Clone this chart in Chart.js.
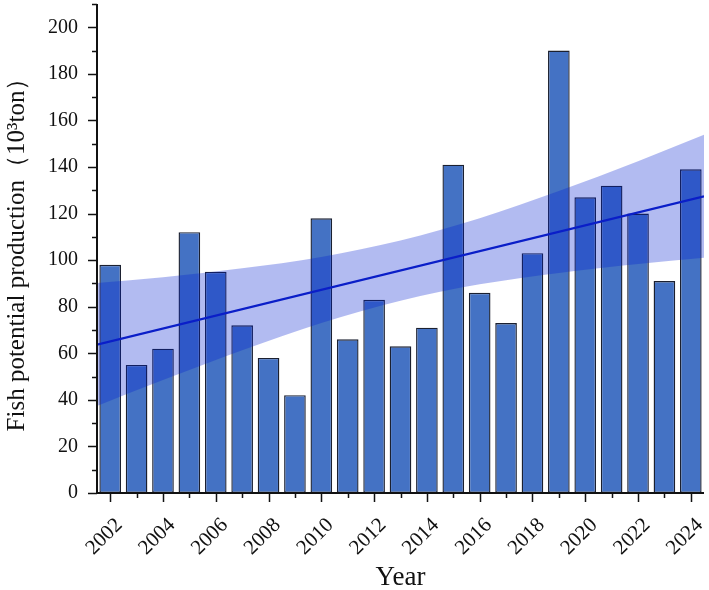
<!DOCTYPE html>
<html>
<head>
<meta charset="utf-8">
<script src="https://cdn.jsdelivr.net/npm/chart.js@4.4.1/dist/chart.umd.min.js"></script>
<style>
  html, body { margin: 0; padding: 0; background: #fff; }
  #wrap { width: 709px; height: 590px; }
</style>
</head>
<body>
<div id="wrap"><canvas id="chart" width="709" height="590"></canvas></div>
<script>
// Fish potential production by year (10^3 ton)
const YEARS = [2002, 2003, 2004, 2005, 2006, 2007, 2008, 2009, 2010, 2011, 2012, 2013,
               2014, 2015, 2016, 2017, 2018, 2019, 2020, 2021, 2022, 2023, 2024];
const PRODUCTION = [98, 55, 62, 112, 95, 72, 58, 42, 118, 66, 83, 63,
                    71, 141, 86, 73, 103, 190, 127, 132, 120, 91, 139];

// Linear fit at the plot edges
const FIT_X = [2001.5, 2024.5];
const FIT_Y = [63.7, 127.4];

// Confidence band
const BAND_X = [2001.5, 2004, 2007, 2010, 2013, 2016, 2019, 2022, 2024.5];
const BAND_UPPER = [90.2, 92.7, 96.5, 101.4, 108.4, 118.0, 129.7, 142.5, 153.8];
const BAND_LOWER = [37.4, 48.5, 61.3, 73.0, 82.6, 89.6, 94.5, 98.3, 101.0];

// Axis ticks
const X_LABEL_YEARS = [2002, 2004, 2006, 2008, 2010, 2012, 2014, 2016, 2018, 2020, 2022, 2024];
const Y_TICKS = [0, 20, 40, 60, 80, 100, 120, 140, 160, 180, 200];
const Y_MINOR = [10, 30, 50, 70, 90, 110, 130, 150, 170, 190, 210];

const FONT = "'Liberation Serif', 'Times New Roman', serif";
const BAR_COLOR = '#4472c4';
const BAND_COLOR = 'rgba(0, 30, 210, 0.3)';
const LINE_COLOR = '#0a1ec8';

const pts = (xs, ys) => xs.map((x, i) => ({ x, y: ys[i] }));

// axis lines and tick marks (major/minor), drawn through the chart's scales
const axesPlugin = {
  id: 'axes',
  afterDatasetsDraw(chart) {
    const { ctx, chartArea: a, scales: { x, y } } = chart;
    ctx.save();
    ctx.strokeStyle = '#111';
    ctx.lineWidth = 1.5;
    ctx.beginPath();
    Y_TICKS.forEach(v => {
      const py = Math.round(y.getPixelForValue(v)) + 0.5;
      ctx.moveTo(a.left - 9, py); ctx.lineTo(a.left, py);
    });
    Y_MINOR.forEach(v => {
      const py = Math.round(y.getPixelForValue(v)) + 0.5;
      ctx.moveTo(a.left - 5, py); ctx.lineTo(a.left, py);
    });
    YEARS.forEach(yr => {
      const px = Math.round(x.getPixelForValue(yr)) + 0.5;
      const len = X_LABEL_YEARS.includes(yr) ? 9 : 5;
      ctx.moveTo(px, a.bottom); ctx.lineTo(px, a.bottom + len);
    });
    ctx.stroke();

    ctx.lineWidth = 2;
    ctx.beginPath();
    ctx.moveTo(a.left, a.top);
    ctx.lineTo(a.left, a.bottom);
    ctx.lineTo(a.right, a.bottom);
    ctx.stroke();
    ctx.restore();
  }
};

new Chart(document.getElementById('chart'), {
  data: {
    datasets: [
      {
        type: 'bar',
        data: pts(YEARS, PRODUCTION),
        backgroundColor: BAR_COLOR,
        borderColor: '#1b2030',
        borderWidth: 1.4,
        borderSkipped: false,
        categoryPercentage: 1,
        barPercentage: 0.82,
        order: 3,
      },
      {
        type: 'line',
        data: pts(BAND_X, BAND_UPPER),
        borderWidth: 0,
        pointRadius: 0,
        backgroundColor: BAND_COLOR,
        fill: '+1',
        cubicInterpolationMode: 'monotone',
        order: 2,
      },
      {
        type: 'line',
        data: pts(BAND_X, BAND_LOWER),
        borderWidth: 0,
        pointRadius: 0,
        fill: false,
        cubicInterpolationMode: 'monotone',
        order: 2,
      },
      {
        type: 'line',
        data: pts(FIT_X, FIT_Y),
        borderColor: LINE_COLOR,
        borderWidth: 2.2,
        pointRadius: 0,
        fill: false,
        order: 1,
      },
    ]
  },
  options: {
    responsive: false,
    animation: false,
    layout: { padding: { top: 4, right: 5, left: 0, bottom: 0 } },
    plugins: {
      legend: { display: false },
      tooltip: { enabled: false },
    },
    scales: {
      x: {
        type: 'linear',
        offset: false,
        min: 2001.5,
        max: 2024.5,
        grid: { display: false },
        border: { display: false },
        afterBuildTicks(scale) {
          scale.ticks = X_LABEL_YEARS.map(v => ({ value: v }));
        },
        ticks: {
          color: '#111',
          font: { family: FONT, size: 21 },
          maxRotation: 45,
          minRotation: 45,
          padding: 12,
          labelOffset: 9,
          autoSkip: false,
          callback: v => String(v),
        },
        title: {
          display: true,
          text: 'Year',
          color: '#111',
          font: { family: FONT, size: 27 },
          padding: { top: 0, bottom: -4 },
        },
        afterFit(scale) {
          scale.height = 97;
          scale.paddingLeft = 0;
          scale.paddingRight = 0;
        },
      },
      y: {
        min: 0,
        max: 210,
        grid: { display: false },
        border: { display: false },
        afterBuildTicks(scale) {
          scale.ticks = Y_TICKS.map(v => ({ value: v }));
        },
        ticks: {
          color: '#111',
          font: { family: FONT, size: 20 },
          padding: 11,
        },
        title: {
          display: true,
          text: 'Fish potential production（10³ton）',
          color: '#111',
          font: { family: FONT, size: 25 },
          padding: { top: 2, bottom: 0 },
        },
        afterFit(scale) {
          scale.width = 97;
          scale.paddingTop = 0;
          scale.paddingBottom = 0;
        },
      },
    },
  },
  plugins: [axesPlugin],
});
</script>
</body>
</html>
